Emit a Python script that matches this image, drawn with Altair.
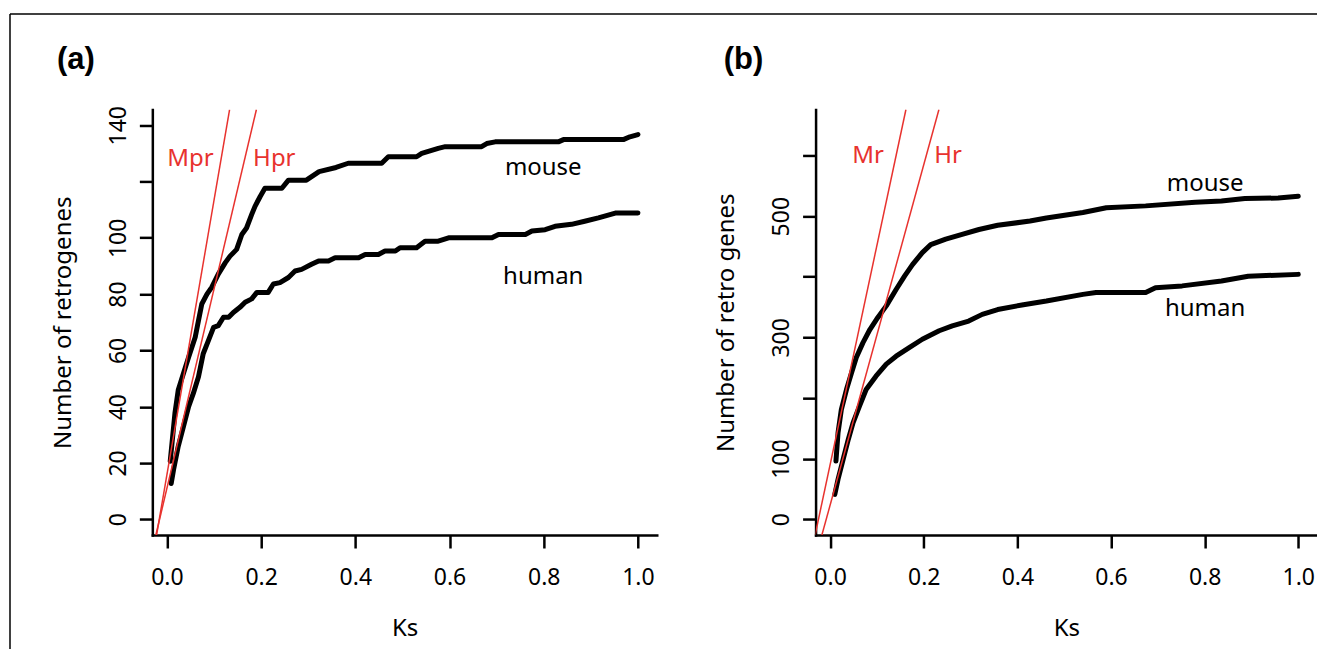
import altair as alt
import pandas as pd

FONT = "Noto Sans"
RED = "#e8322e"

# ---------------- data ----------------
x_ticks = [0.0, 0.2, 0.4, 0.6, 0.8, 1.0]

# Panel (a): retrogenes
a_x_domain = [-0.031, 1.040]
a_mouse_ks = [0.007, 0.017, 0.024, 0.035, 0.046, 0.060, 0.067, 0.074, 0.085, 0.095,
              0.109, 0.124, 0.134, 0.148, 0.159, 0.169, 0.180, 0.187, 0.198, 0.208,
              0.244, 0.258, 0.296, 0.323, 0.359, 0.385, 0.456, 0.470, 0.530, 0.541,
              0.576, 0.591, 0.668, 0.679, 0.697, 0.831, 0.842, 0.969, 0.983, 1.0]
a_mouse_n = [20.6, 37.7, 45.9, 51.8, 57.6, 64.7, 70.6, 76.5, 80.0, 82.4,
             87.1, 91.2, 93.5, 95.9, 101.2, 103.5, 108.3, 111.2, 114.7, 117.6,
             117.6, 120.5, 120.5, 123.5, 125.0, 126.5, 126.5, 128.8, 128.8, 130.0,
             131.8, 132.4, 132.4, 133.5, 134.1, 134.1, 134.9, 134.9, 135.9, 136.7]
a_human_ks = [0.009, 0.014, 0.024, 0.035, 0.046, 0.056, 0.067, 0.077, 0.088, 0.099,
              0.109, 0.120, 0.131, 0.141, 0.155, 0.166, 0.180, 0.191, 0.215, 0.226,
              0.240, 0.258, 0.272, 0.286, 0.307, 0.322, 0.343, 0.357, 0.407, 0.421,
              0.449, 0.463, 0.485, 0.495, 0.530, 0.548, 0.576, 0.598, 0.690, 0.704,
              0.761, 0.775, 0.803, 0.824, 0.859, 0.887, 0.916, 0.952, 1.0]
a_human_n = [12.7, 17.6, 25.9, 32.9, 40.0, 44.7, 50.6, 58.8, 63.5, 68.2,
             68.8, 71.8, 71.8, 73.5, 75.3, 77.1, 78.3, 80.6, 80.6, 83.6,
             84.1, 85.9, 88.2, 88.8, 90.6, 91.8, 91.8, 92.9, 92.9, 94.1,
             94.1, 95.3, 95.3, 96.5, 96.5, 98.8, 98.8, 100.0, 100.0, 101.2,
             101.2, 102.4, 102.9, 104.1, 104.8, 105.9, 107.1, 108.8, 108.8]
a_red_names = ["Mpr", "Mpr", "Hpr", "Hpr"]
a_red_ks = [-0.022, 0.133, -0.0235, 0.190]
a_red_n = [-5.6, 145.6, -5.6, 145.6]
a_text = ["Mpr", "Hpr", "mouse", "human"]
a_text_ks = [0.050, 0.228, 0.799, 0.799]
a_text_n = [125.4, 125.4, 122.5, 83.5]
a_text_col = [RED, RED, "black", "black"]
a_y_domain = [-5.6, 145.6]
a_y_ticks = [0, 20, 40, 60, 80, 100, 120, 140]
a_y_shown = [0, 20, 40, 60, 80, 100, 140]

# Panel (b): retro genes
b_x_domain = [-0.031, 1.040]
b_mouse_ks = [0.0125, 0.017, 0.024, 0.035, 0.046, 0.056, 0.070, 0.085, 0.102, 0.120,
              0.141, 0.159, 0.176, 0.197, 0.215, 0.247, 0.282, 0.318, 0.358, 0.427,
              0.462, 0.540, 0.590, 0.674, 0.780, 0.836, 0.886, 0.957, 1.0]
b_mouse_n = [96, 143, 181, 214, 242, 267, 291, 313, 333, 352,
             379, 401, 420, 440, 453, 462, 470, 478, 485, 492,
             497, 506, 514, 517, 523, 525, 529, 530, 533]
b_human_ks = [0.010, 0.017, 0.028, 0.039, 0.049, 0.063, 0.077, 0.098, 0.120, 0.141,
              0.169, 0.197, 0.233, 0.261, 0.296, 0.325, 0.358, 0.413, 0.462, 0.540,
              0.568, 0.674, 0.695, 0.752, 0.836, 0.893, 1.0]
b_human_n = [41, 66, 99, 132, 159, 187, 214, 236, 256, 269,
             283, 297, 311, 319, 327, 338, 346, 354, 360, 371,
             374, 374, 382, 385, 393, 401, 404]
b_red_names = ["Mr", "Mr", "Hr", "Hr"]
b_red_ks = [-0.032, 0.162, -0.0175, 0.2325]
b_red_n = [-26, 676, -26, 676]
b_text = ["Mr", "Hr", "mouse", "human"]
b_text_ks = [0.081, 0.252, 0.801, 0.801]
b_text_n = [587, 587, 541, 336]
b_text_col = [RED, RED, "black", "black"]
b_y_domain = [-26, 676]
b_y_ticks = [0, 100, 200, 300, 400, 500, 600]
b_y_shown = [0, 100, 300, 500]

H = 426
FS = 24
LFS = 23


def build_panel(width, x_domain, mouse_ks, mouse_n, human_ks, human_n, red_names,
                red_ks, red_n, txt, txt_ks, txt_n, txt_col, y_domain, y_ticks,
                y_shown, y_title, tag, tag_dx, border):
    xs = alt.Scale(domain=x_domain, nice=False, zero=False)
    ys = alt.Scale(domain=y_domain, nice=False, zero=False)
    shown = ",".join(str(v) for v in y_shown)
    xaxis = alt.Axis(values=x_ticks, format=".1f", title="Ks",
                     labelBaseline="alphabetic", labelPadding=37,
                     titleX=width / 2, titleY=101, titleAlign="center",
                     titleBaseline="alphabetic", titleAngle=0)
    yaxis = alt.Axis(values=y_ticks, format="d", title=y_title,
                     labelExpr=f"indexof([{shown}], datum.value) >= 0 ? datum.label : ''",
                     labelAngle=270, labelAlign="center", labelBaseline="alphabetic",
                     labelPadding=14,
                     titleX=-77, titleY=H / 2, titleAngle=270, titleAlign="center",
                     titleBaseline="bottom")
    X = alt.X("Ks:Q", scale=xs, axis=xaxis)
    Y = alt.Y("N:Q", scale=ys, axis=yaxis)

    curves_df = pd.concat([
        pd.DataFrame({"Ks": mouse_ks, "N": mouse_n, "series": "mouse"}),
        pd.DataFrame({"Ks": human_ks, "N": human_n, "series": "human"}),
    ])
    curves = alt.Chart(curves_df).mark_line(
        color="black", strokeWidth=5, strokeCap="round", strokeJoin="round"
    ).encode(x=X, y=Y, detail="series:N")

    red_df = pd.DataFrame({"Ks": red_ks, "N": red_n, "name": red_names})
    reds = alt.Chart(red_df).mark_line(color=RED, strokeWidth=1.5, clip=True).encode(
        x=X, y=Y, detail="name:N")

    txt_df = pd.DataFrame({"Ks": txt_ks, "N": txt_n, "label": txt, "col": txt_col})
    texts = alt.Chart(txt_df).mark_text(
        font=FONT, fontSize=FS, align="center", baseline="alphabetic"
    ).encode(x=X, y=Y, text="label:N", color=alt.Color("col:N", scale=None))

    tag_df = pd.DataFrame({"tag": [tag]})
    tag_mark = alt.Chart(tag_df).mark_text(
        font="Liberation Sans", fontWeight="bold", fontSize=31,
        align="left", baseline="alphabetic", color="black"
    ).encode(x=alt.value(tag_dx), y=alt.value(-41), text="tag:N")

    layers = [curves, reds, texts, tag_mark]
    if border:
        bdf = pd.DataFrame({"b": [1]})
        left = alt.Chart(bdf).mark_rule(color="black", strokeWidth=1.5).encode(
            x=alt.value(-142.5), y=alt.value(-95.5), y2=alt.value(540))
        top = alt.Chart(bdf).mark_rule(color="black", strokeWidth=1.5).encode(
            x=alt.value(-142.5), x2=alt.value(1166), y=alt.value(-95.5))
        layers += [left, top]
    return alt.layer(*layers).properties(width=width, height=H)


pa = build_panel(505, a_x_domain, a_mouse_ks, a_mouse_n, a_human_ks, a_human_n,
                 a_red_names, a_red_ks, a_red_n, a_text, a_text_ks, a_text_n,
                 a_text_col, a_y_domain, a_y_ticks, a_y_shown,
                 "Number of retrogenes", "(a)", -95.5, True)
pb = build_panel(502, b_x_domain, b_mouse_ks, b_mouse_n, b_human_ks, b_human_n,
                 b_red_names, b_red_ks, b_red_n, b_text, b_text_ks, b_text_n,
                 b_text_col, b_y_domain, b_y_ticks, b_y_shown,
                 "Number of retro genes", "(b)", -92, False)

chart = alt.hconcat(pa, pb, spacing=159, bounds="flush").properties(
    padding={"left": 0.5, "top": 4.25, "right": -2, "bottom": 0}
).configure_view(stroke="transparent").configure_axis(
    grid=False, domainColor="black", domainWidth=2.5, domainCap="square",
    tickColor="black", tickWidth=2.5, tickSize=13,
    labelFont=FONT, labelFontSize=LFS, labelColor="black",
    labelOverlap=False, labelFlush=False,
    titleFont=FONT, titleFontSize=FS, titleColor="black", titleFontWeight="normal",
)

chart.save("out.html", embed_options={"renderer": "svg", "actions": False})
